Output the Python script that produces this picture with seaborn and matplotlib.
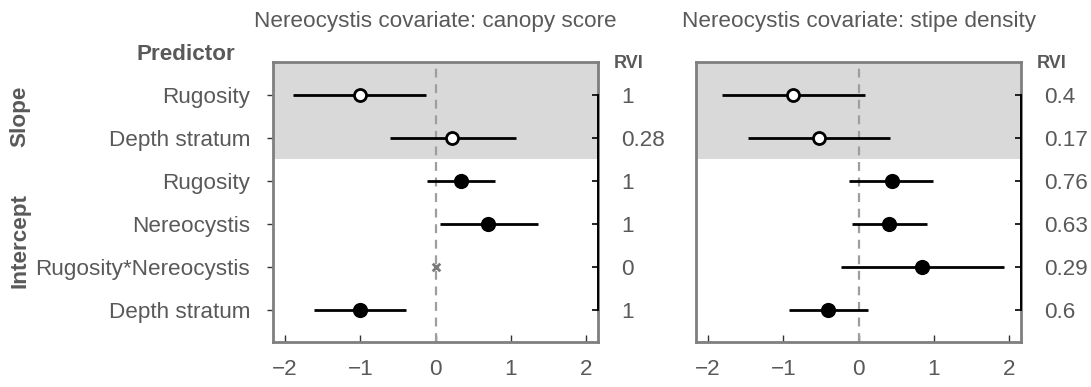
import numpy as np
import pandas as pd
import matplotlib
matplotlib.use("Agg")
import matplotlib.pyplot as plt
import seaborn as sns

# Model-averaged coefficients with 95% CIs and relative variable importance
predictors = ["Rugosity", "Depth stratum", "Rugosity", "Nereocystis",
              "Rugosity*Nereocystis", "Depth stratum"]
terms = ["Slope", "Slope", "Intercept", "Intercept", "Intercept", "Intercept"]

canopy_est = [-1.01, 0.22, 0.34, 0.70, 0.0, -1.01]
canopy_lo = [-1.90, -0.60, -0.11, 0.06, np.nan, -1.62]
canopy_hi = [-0.12, 1.07, 0.79, 1.36, np.nan, -0.39]
canopy_rvi = ["1", "0.28", "1", "1", "0", "1"]

stipe_est = [-0.87, -0.52, 0.44, 0.41, 0.85, -0.40]
stipe_lo = [-1.82, -1.47, -0.13, -0.09, -0.23, -0.92]
stipe_hi = [0.09, 0.42, 0.99, 0.91, 1.93, 0.12]
stipe_rvi = ["0.4", "0.17", "0.76", "0.63", "0.29", "0.6"]

panel_titles = ["Nereocystis covariate: canopy score",
                "Nereocystis covariate: stipe density"]
x_ticks = [-2, -1, 0, 1, 2]

sns.set_theme(style="white")
plt.rcParams["font.family"] = ["Liberation Sans", "DejaVu Sans"]

TXT = "#595959"
SPINE = "#7f7f7f"
FS = 16.2

rows = np.arange(1, len(predictors) + 1)


def make_frame(est, lo, hi, rvi):
    return pd.DataFrame({"row": rows, "predictor": predictors, "term": terms,
                         "est": est, "lo": lo, "hi": hi, "rvi": rvi})


frames = [make_frame(canopy_est, canopy_lo, canopy_hi, canopy_rvi),
          make_frame(stipe_est, stipe_lo, stipe_hi, stipe_rvi)]

W, H = 1091, 387
fig = plt.figure(figsize=(W / 100, H / 100), dpi=100)
lefts = [273, 696]
axes = [fig.add_axes([l / W, 1 - 342 / H, 325 / W, 280 / H]) for l in lefts]

for i, (ax, df) in enumerate(zip(axes, frames)):
    ax.set_xlim(-2.16, 2.16)
    ax.set_ylim(6.75, 0.23)
    ax.axhspan(0.23, 2.5, color="#d9d9d9", lw=0, zorder=0)
    ax.axvline(0, color="#9e9e9e", lw=1.6, ls=(0, (4.0, 3.0)), zorder=1)

    ax.hlines(df["row"], df["lo"], df["hi"], color="black", lw=2.0, zorder=2)

    has_rvi = df["rvi"].astype(float) > 0
    slope = df[(df["term"] == "Slope") & has_rvi]
    inter = df[(df["term"] == "Intercept") & has_rvi]
    absent = df[~has_rvi]

    sns.scatterplot(data=slope, x="est", y="row", ax=ax, s=75, color="white",
                    edgecolor="black", linewidth=2.0, zorder=3, legend=False)
    sns.scatterplot(data=inter, x="est", y="row", ax=ax, s=120, color="black",
                    edgecolor="black", linewidth=0, zorder=3, legend=False)
    if len(absent):
        sns.scatterplot(data=absent, x="est", y="row", ax=ax, s=30,
                        marker="x", color="#7a7a7a", linewidth=2.0,
                        zorder=3, legend=False)

    ax.set_xlabel("")
    ax.set_ylabel("")
    ax.set_xticks(x_ticks)
    ax.set_xticklabels([("\u2212" + str(abs(t))) if t < 0 else str(t)
                        for t in x_ticks])
    ax.tick_params(axis="x", direction="in", length=5, width=1.0,
                   color="#333333", labelcolor=TXT, labelsize=FS, pad=12,
                   bottom=True, top=False)
    for sp in ax.spines.values():
        sp.set_color(SPINE)
        sp.set_linewidth(2.0)
        sp.set_visible(True)

    # RVI labels on a secondary axis
    ax2 = ax.twinx()
    ax2.set_ylim(ax.get_ylim())
    ax2.set_yticks(rows)
    ax2.set_yticklabels(df["rvi"])
    ax2.tick_params(axis="y", direction="in", length=4, width=1.2,
                    color="black", labelcolor=TXT, labelsize=FS, pad=16.5,
                    right=True, left=False, labelleft=False, labelright=True)
    for name, sp in ax2.spines.items():
        sp.set_visible(name == "right")
    ax2.spines["right"].set_color("black")
    ax2.spines["right"].set_linewidth(1.4)
    ax2.spines["right"].set_bounds(1, 6)
    ax2.grid(False)
    ax2.set_zorder(ax.get_zorder() + 1)

    # predictor names only on the first panel (set after twinx, which
    # re-enables left ticks on the host axis)
    ax.set_yticks(rows)
    if i == 0:
        ax.set_yticklabels(df["predictor"])
        ax.tick_params(axis="y", direction="out", length=4.5, width=1.0,
                       color="#333333", labelcolor=TXT, labelsize=FS,
                       pad=12, left=True, right=False, labelleft=True,
                       labelright=False)
    else:
        ax.set_yticklabels([])
        ax.tick_params(axis="y", left=False, right=False, labelleft=False,
                       labelright=False)

    ax.text(1.047, 1 - (63.5 - 62) / 280, "RVI", transform=ax.transAxes,
            ha="left", va="center", fontsize=13, fontweight="bold",
            color=TXT)
    fig.text((lefts[i] + 162.5) / W, 1 - 21.5 / H, panel_titles[i],
             ha="center", va="center", fontsize=FS, color=TXT)

fig.text(186 / W, 1 - 55 / H, "Predictor", ha="center", va="center",
         fontsize=FS, fontweight="bold", color=TXT)
fig.text(20 / W, 1 - 116 / H, "Slope", ha="center", va="center",
         rotation=90, fontsize=FS, fontweight="bold", color=TXT)
fig.text(20 / W, 1 - 240 / H, "Intercept", ha="center", va="center",
         rotation=90, fontsize=FS, fontweight="bold", color=TXT)

fig.savefig("out.png", dpi=100)
